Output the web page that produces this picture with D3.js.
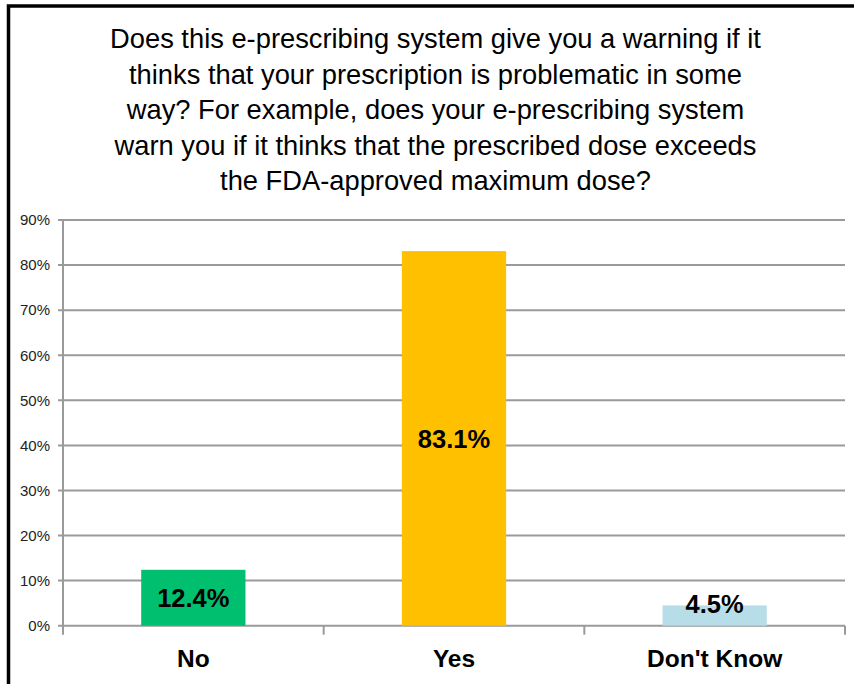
<!DOCTYPE html>
<html>
<head>
<meta charset="utf-8">
<script src="https://cdn.jsdelivr.net/npm/d3@7"></script>
<style>
  body { margin: 0; background: #fff; }
  svg { display: block; font-family: "Liberation Sans", Arial, sans-serif; }
</style>
</head>
<body>
<svg width="854" height="684"></svg>
<script>
var categories = ["No", "Yes", "Don't Know"];
var values = [12.4, 83.1, 4.5];
var colors = ["#00BF6F", "#FFC000", "#B7DEE8"];
var yTicks = [0, 10, 20, 30, 40, 50, 60, 70, 80, 90];
var titleLines = [
  "Does this e-prescribing system give you a warning if it",
  "thinks that your prescription is problematic in some",
  "way? For example, does your e-prescribing system",
  "warn you if it thinks that the prescribed dose exceeds",
  "the FDA-approved maximum dose?"
];

var svg = d3.select("svg");

// outer frame (only top and left edges show in the picture)
svg.append("rect")
  .attr("x", 8.5)
  .attr("y", 6)
  .attr("width", 900)
  .attr("height", 900)
  .attr("fill", "none")
  .attr("stroke", "#000")
  .attr("stroke-width", 3.5);

var plotLeft = 63, plotRight = 845, plotTop = 220, plotBottom = 625.7;

var xScale = d3.scaleBand()
  .domain(categories)
  .range([plotLeft, plotRight])
  .paddingInner(0.6)
  .paddingOuter(0.3);

var yScale = d3.scaleLinear()
  .domain([0, 90])
  .range([plotBottom, plotTop]);

svg.append("g")
  .selectAll("text")
  .data(titleLines)
  .enter()
  .append("text")
    .text(d => d)
    .attr("x", 435.5)
    .attr("y", (d, i) => 48 + i * 35.5)
    .style("text-anchor", "middle")
    .style("font-size", "27.3px")
    .style("fill", "#000");

// gridlines
svg.append("g")
  .selectAll("line")
  .data(yTicks)
  .enter()
  .append("line")
    .attr("x1", plotLeft - 5)
    .attr("x2", plotRight)
    .attr("y1", d => yScale(d))
    .attr("y2", d => yScale(d))
    .attr("stroke", "#9a9a9a")
    .attr("stroke-width", 2);

var yAxis = d3.axisLeft(yScale)
  .tickValues(yTicks)
  .tickFormat(d => d + "%")
  .tickSize(0)
  .tickPadding(13);

svg.append("g")
  .attr("transform", "translate(" + plotLeft + ",0)")
  .call(yAxis)
  .call(g => g.select(".domain").remove())
  .call(g => g.selectAll("text")
    .style("font-size", "15px")
    .style("fill", "#222")
    .style("font-family", "'Liberation Sans', Arial, sans-serif"));

svg.append("line")
  .attr("x1", plotLeft).attr("x2", plotLeft)
  .attr("y1", plotTop).attr("y2", plotBottom)
  .attr("stroke", "#9a9a9a")
  .attr("stroke-width", 2);

// category boundary ticks
var bounds = d3.range(categories.length + 1)
  .map(i => plotLeft + i * (plotRight - plotLeft) / categories.length);
svg.append("g")
  .selectAll("line")
  .data(bounds)
  .enter()
  .append("line")
    .attr("x1", d => d).attr("x2", d => d)
    .attr("y1", plotBottom).attr("y2", plotBottom + 9)
    .attr("stroke", "#9a9a9a")
    .attr("stroke-width", 2);

var data = categories.map((c, i) => ({ cat: c, value: values[i], color: colors[i] }));

svg.append("g")
  .selectAll("rect")
  .data(data)
  .enter()
  .append("rect")
    .attr("x", d => xScale(d.cat))
    .attr("width", xScale.bandwidth())
    .attr("y", d => yScale(d.value))
    .attr("height", d => plotBottom - yScale(d.value))
    .attr("fill", d => d.color);

svg.append("g")
  .selectAll("text")
  .data(data)
  .enter()
  .append("text")
    .text(d => d.value.toFixed(1) + "%")
    .attr("x", d => xScale(d.cat) + xScale.bandwidth() / 2)
    .attr("y", d => Math.min((yScale(d.value) + plotBottom) / 2, plotBottom - 22) + 9.5)
    .style("text-anchor", "middle")
    .style("font-size", "25.5px")
    .style("font-weight", "bold")
    .style("fill", "#000");

svg.append("g")
  .selectAll("text")
  .data(categories)
  .enter()
  .append("text")
    .text(d => d)
    .attr("x", d => xScale(d) + xScale.bandwidth() / 2)
    .attr("y", 667)
    .style("text-anchor", "middle")
    .style("font-size", "24.5px")
    .style("font-weight", "bold")
    .style("fill", "#000");
</script>
</body>
</html>
